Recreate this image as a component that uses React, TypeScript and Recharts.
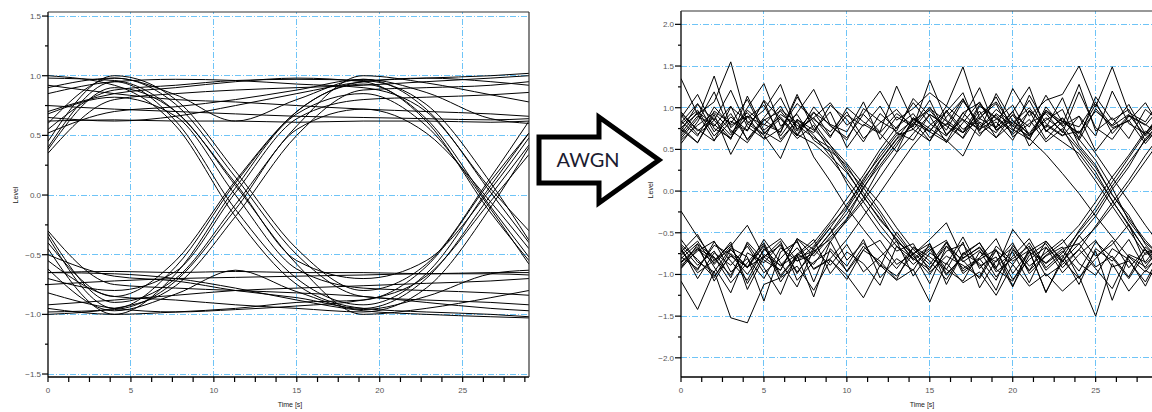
import React from 'react';
import { LineChart, Line, XAxis, YAxis, ReferenceLine } from 'recharts';

// clean eye diagram (left) - samples per trace at these times
const cleanTime = [0, 4, 7.7, 11.3, 15, 19, 22.8, 26.7, 29];
const cleanTraces = [
    [0.40, 0.95, 0.62, -0.12, -0.70, -0.92, -0.66, 0.08, 0.52],
    [-0.35, -0.95, -0.60, 0.10, 0.70, 0.93, 0.64, -0.10, -0.52],
    [0.62, 0.63, 0.62, 0.62, 0.61, 0.62, 0.62, 0.61, 0.62],
    [-0.65, -0.64, -0.65, -0.64, -0.65, -0.65, -0.66, -0.65, -0.65],
    [0.90, 0.98, 0.76, 0.15, -0.50, -0.85, -0.88, -0.90, -0.92],
    [-0.40, -0.85, -0.55, 0.12, 0.70, 0.95, 0.98, 0.95, 0.92],
    [0.70, 0.85, 0.90, 0.95, 0.98, 0.95, 0.62, -0.15, -0.55],
    [-0.95, -1.00, -0.98, -0.95, -0.90, -0.88, -0.60, 0.12, 0.52],
    [0.35, 0.80, 0.85, 0.88, 0.90, 0.92, 0.95, 0.98, 1.00],
    [-0.30, -0.75, -0.78, -0.80, -0.82, -0.85, -0.90, -0.95, -0.97],
    [0.75, 0.72, 0.70, 0.68, 0.66, 0.65, 0.64, 0.63, 0.64],
    [-0.75, -0.72, -0.70, -0.69, -0.68, -0.67, -0.66, -0.66, -0.67],
    [1.00, 0.92, 0.58, -0.18, -0.75, -0.95, -0.98, -1.00, -1.02],
    [-1.00, -0.95, -0.76, -0.18, 0.50, 0.88, 0.90, 0.92, 0.95],
    [0.55, 0.88, 0.92, 0.96, 0.97, 0.96, 0.76, 0.10, -0.38],
    [-0.55, -0.85, -0.88, -0.92, -0.95, -0.98, -0.78, -0.10, 0.40],
    [0.92, 0.85, 0.80, 0.78, 0.75, 0.72, 0.70, 0.68, 0.66],
    [-0.92, -0.88, -0.84, -0.80, -0.78, -0.76, -0.74, -0.72, -0.70],
    [0.45, 1.00, 0.80, 0.20, -0.45, -0.80, -0.58, 0.15, 0.62],
    [-0.45, -1.00, -0.66, 0.06, 0.68, 0.85, 0.58, -0.12, -0.58],
    [0.65, 0.62, 0.66, 0.75, 0.85, 0.95, 0.98, 1.00, 1.02],
    [-0.65, -0.66, -0.70, -0.78, -0.88, -0.97, -1.00, -1.02, -1.03],
    [0.85, 0.95, 0.97, 0.96, 0.93, 0.90, 0.70, 0.05, -0.30],
    [-0.82, -0.95, -0.98, -0.96, -0.93, -0.88, -0.68, -0.05, 0.34],
    [0.60, 0.98, 0.84, 0.62, 0.80, 0.97, 0.86, 0.64, 0.60],
    [-0.62, -0.97, -0.83, -0.63, -0.81, -0.96, -0.85, -0.66, -0.63],
    [0.38, 0.90, 0.70, 0.08, -0.58, -1.00, -0.95, -0.86, -0.80],
    [-0.32, -0.90, -0.70, -0.08, 0.58, 1.00, 0.94, 0.84, 0.78],
    [0.68, 0.82, 0.66, 0.00, -0.62, -0.78, -0.80, -0.82, -0.84],
    [-0.70, -0.80, -0.64, 0.02, 0.64, 0.80, 0.82, 0.84, 0.86],
    [0.98, 0.96, 0.70, 0.10, -0.55, -0.70, -0.55, 0.05, 0.48],
    [-0.98, -0.96, -0.72, -0.12, 0.55, 0.72, 0.52, -0.06, -0.45],
    [0.52, 0.70, 0.74, 0.80, 0.88, 0.97, 0.72, 0.02, -0.40],
    [-0.50, -0.68, -0.72, -0.80, -0.86, -0.95, -0.70, 0.00, 0.42],
];

// noisy eye diagram (right) - one sample per second
const noisyTime = [0, 1, 2, 3, 4, 5, 6, 7, 8, 9, 10, 11, 12, 13, 14, 15, 16, 17, 18, 19, 20, 21, 22, 23, 24, 25, 26, 27, 28, 29];
const noisyTraces = [
    [0.82, 1.05, 0.71, 0.93, 0.62, 0.88, 1.12, 0.74, 0.95, 0.66, 0.91, 0.78, 1.02, 0.69, 0.85, 0.97, 0.73, 1.08, 0.81, 0.64, 0.92, 0.77, 1.15, 0.83, 0.70, 0.96, 0.79, 1.04, 0.68, 0.90],
    [0.74, 0.58, 0.96, 0.81, 1.10, 0.69, 0.87, 0.63, 0.79, 0.48, 0.31, -0.02, -0.28, -0.61, -0.74, -0.92, -0.66, -0.83, -1.05, -0.71, -0.88, -0.62, -0.95, -0.77, -1.12, -0.69, -0.84, -0.58, -0.93, -0.76],
    [-0.66, -0.89, -0.72, -1.04, -0.61, -0.83, -0.95, -0.57, -0.78, -0.55, -0.33, 0.05, 0.31, 0.58, 0.82, 0.71, 1.02, 0.85, 0.66, 0.93, 0.78, 1.09, 0.72, 0.87, 0.61, 0.99, 0.76, 0.84, 1.06, 0.73],
    [-0.81, -0.63, -1.08, -0.75, -0.92, -0.58, -0.86, -1.15, -0.70, -0.89, -0.64, -0.97, -0.79, -0.60, -1.02, -0.74, -0.88, -0.55, -0.93, -0.71, -1.06, -0.82, -0.67, -0.98, -0.76, -0.59, -0.91, -0.84, -1.09, -0.72],
    [0.91, 0.68, 0.85, 1.21, 0.77, 0.63, 0.98, 0.82, 0.70, 1.03, 0.86, 0.59, 0.93, 0.75, 1.06, 0.81, 0.66, 0.94, 0.72, 1.17, 0.84, 0.69, 0.97, 0.78, 0.52, 0.28, -0.04, -0.33, -0.59, -0.81],
    [-0.72, -0.95, -0.61, -0.84, -1.07, -0.69, -0.90, -0.76, -0.58, -0.99, -0.73, -0.87, -1.13, -0.66, -0.81, -0.94, -0.62, -0.85, -0.71, -1.03, -0.78, -0.57, -0.92, -0.74, -0.49, -0.25, 0.06, 0.34, 0.61, 0.77],
    [0.63, 0.87, 1.38, 0.76, 0.94, 0.71, 0.59, 0.86, 0.67, 0.42, 0.22, -0.06, -0.35, -0.57, -0.83, -0.69, -1.01, -0.77, -0.62, -0.91, -0.73, -1.10, -0.68, -0.85, -0.54, -0.30, 0.02, 0.29, 0.63, 0.84],
    [-0.93, -0.70, -0.86, -0.61, -1.18, -0.79, -0.65, -0.97, -0.74, -0.51, -0.27, 0.03, 0.36, 0.62, 0.79, 1.01, 0.68, 0.88, 1.24, 0.73, 0.91, 0.66, 0.85, 0.98, 0.55, 0.31, -0.05, -0.29, -0.64, -0.87],
    [0.69, 0.95, 0.80, 0.62, 1.14, 0.73, 0.89, 0.67, 1.01, 0.78, 0.64, 0.92, 0.71, 1.26, 0.83, 0.60, 0.97, 0.74, 0.88, 1.05, 0.65, 0.81, 0.93, 0.70, 1.19, 0.76, 0.62, 0.90, 0.79, 1.03],
    [-0.58, -0.85, -0.97, -0.68, -0.79, -1.32, -0.73, -0.61, -0.94, -0.82, -1.06, -0.70, -0.59, -0.88, -0.75, -1.11, -0.66, -0.93, -0.80, -0.57, -0.99, -0.72, -1.21, -0.84, -0.63, -0.91, -0.78, -1.03, -0.67, -0.86],
    [0.88, 1.16, 0.75, 0.64, 0.90, 0.79, 1.02, 0.68, 0.57, 0.39, 0.14, -0.13, -0.41, -0.66, -0.88, -0.71, -0.59, -0.96, -0.81, -1.07, -0.65, -0.90, -0.74, -0.58, -0.87, -1.01, -0.69, -0.82, -1.14, -0.73],
    [-0.77, -0.60, -0.91, -1.22, -0.74, -0.86, -0.63, -0.99, -0.68, -0.44, -0.16, 0.12, 0.45, 0.70, 0.61, 0.92, 0.79, 1.11, 0.74, 0.86, 1.03, 0.67, 0.95, 0.80, 1.28, 0.72, 0.88, 0.63, 0.98, 0.81],
    [0.76, 0.93, 0.61, 0.84, 0.72, 1.09, 0.87, 0.66, 0.94, 0.80, 0.71, 1.07, 0.62, 0.89, 0.77, 1.33, 0.85, 0.70, 0.96, 0.64, 0.82, 1.00, 0.73, 0.59, 0.45, 0.18, -0.11, -0.42, -0.70, -0.94],
    [-0.86, -0.69, -0.80, -1.01, -0.63, -0.92, -1.24, -0.75, -0.88, -0.60, -0.97, -0.71, -0.84, -1.06, -0.67, -0.79, -0.94, -0.61, -1.16, -0.83, -0.68, -0.95, -0.77, -0.62, -0.41, -0.13, 0.17, 0.43, 0.72, 0.58],
    [0.95, 0.72, 0.88, 0.67, 1.00, 1.29, 0.78, 0.92, 0.61, 0.47, 0.09, -0.21, -0.49, -0.72, -0.63, -0.97, -0.78, -0.89, -1.03, -0.66, -0.84, -0.71, -1.22, -0.80, -0.47, -0.20, 0.11, 0.40, 0.69, 0.92],
    [-0.68, -1.05, -0.74, -0.89, -0.66, -0.98, -0.81, -0.59, -1.09, -0.61, -0.34, -0.08, 0.28, 0.54, 0.86, 0.72, 0.95, 1.18, 0.69, 0.83, 0.61, 0.97, 0.76, 1.12, 0.62, 0.37, 0.04, -0.36, -0.62, -0.79],
    [1.35, 0.92, 1.07, 1.55, 0.81, 0.97, 1.28, 0.74, 0.88, 1.06, 0.79, 0.93, 1.20, 0.85, 0.99, 1.18, 1.02, 1.49, 0.87, 0.76, 1.23, 0.90, 1.09, 1.16, 1.50, 1.01, 1.49, 0.94, 0.83, 1.12],
    [-1.08, -1.42, -0.96, -1.52, -1.58, -1.12, -1.04, -0.90, -1.19, -0.83, -1.01, -1.28, -0.89, -1.07, -0.94, -1.33, -0.86, -1.10, -0.97, -1.25, -0.88, -1.14, -0.99, -1.20, -1.02, -1.50, -0.87, -1.20, -0.95, -1.08],
    [0.61, 0.79, 0.94, 0.73, 0.58, 0.86, 0.70, 1.13, 0.82, 0.55, 0.27, 0.04, -0.24, -0.53, -0.78, -1.00, -0.72, -0.64, -0.90, -0.79, -1.15, -0.68, -0.87, -0.72, -0.96, -0.61, -0.80, -1.05, -0.74, -0.66],
    [-0.24, -0.55, -0.83, -0.70, -0.92, -0.66, -1.03, -0.78, -0.62, -0.37, -0.09, 0.19, 0.50, 0.77, 0.93, 0.64, 0.81, 0.70, 1.04, 0.88, 0.73, 0.96, 0.62, 0.84, 0.77, 1.07, 0.69, 0.91, 0.80, 0.65],
    [0.84, 0.66, 1.01, 0.79, 0.90, 0.62, 0.75, 1.05, 0.86, 0.71, 0.95, 0.63, 0.82, 0.98, 0.74, 0.60, 0.89, 1.10, 0.77, 0.91, 0.68, 0.86, 0.59, 0.75, 0.40, 0.12, -0.18, -0.47, -0.76, -0.69],
    [-0.79, -0.93, -0.65, -0.76, -1.00, -0.71, -0.57, -0.84, -0.66, -0.40, -0.20, 0.15, 0.41, 0.67, 0.74, 0.99, 0.84, 0.63, 0.92, 1.07, 0.78, 0.66, 0.88, 0.72, 0.49, 0.23, -0.12, -0.40, -0.71, -0.98],
    [0.57, 0.83, 1.19, 0.70, 0.88, 1.03, 0.66, 0.94, 1.22, 0.79, 0.61, 0.99, 0.84, 0.72, 1.11, 0.90, 0.58, 0.82, 1.07, 0.76, 0.95, 1.25, 0.71, 0.88, 0.64, 1.13, 0.85, 0.98, 0.60, 0.87],
    [-0.92, -0.64, -0.79, -1.10, -0.86, -0.62, -1.01, -0.77, -1.27, -0.69, -0.90, -0.58, -1.04, -0.81, -0.95, -0.63, -1.12, -0.74, -0.87, -1.19, -0.70, -0.96, -0.60, -0.83, -1.05, -0.72, -1.31, -0.78, -0.91, -0.65],
    [0.80, 0.97, 0.66, 0.89, 0.73, 1.08, 0.62, 0.85, 0.41, 0.12, -0.20, -0.46, -0.71, -0.93, -0.68, -0.84, -1.06, -0.75, -0.62, -0.97, -0.81, -0.66, -1.02, -0.88, -0.70, -0.93, -1.17, -0.76, -0.85, -0.60],
    [-0.70, -0.98, -0.83, -0.64, -1.11, -0.76, -0.89, -0.68, -0.93, -0.81, -0.58, -0.30, -0.02, 0.27, 0.55, 0.79, 0.95, 0.70, 0.86, 1.13, 0.74, 0.62, 0.97, 0.83, 0.69, 1.04, 0.78, 0.92, 0.66, 0.88],
    [0.66, 0.90, 0.78, 1.02, 0.61, 0.85, 0.96, 0.72, 0.88, 0.64, 1.00, 0.83, 0.70, 0.93, 0.79, 1.09, 0.67, 0.86, 0.74, 0.98, 0.81, 0.63, 0.44, 0.21, -0.03, -0.30, -0.55, -0.79, -0.97, -0.71],
    [-0.64, -0.82, -1.04, -0.70, -0.91, -0.79, -0.60, -1.07, -0.85, -0.72, -0.96, -0.66, -0.88, -1.02, -0.75, -0.63, -0.99, -0.80, -0.68, -0.94, -1.08, -0.73, -0.86, -0.69, -0.63, -0.44, -0.19, 0.08, 0.36, 0.64],
    [0.72, 1.04, 0.85, 0.63, 0.97, 0.80, 0.71, 1.16, 0.74, 0.55, 0.33, 0.08, -0.15, -0.44, -0.70, -0.88, -0.61, -0.99, -0.82, -0.70, -1.14, -0.77, -0.63, -0.92, -0.70, -0.42, -0.14, 0.13, 0.43, 0.70],
    [-0.85, -0.67, -1.02, -0.78, -0.91, -0.64, -1.09, -0.80, -0.72, -0.58, -0.36, -0.12, 0.17, 0.46, 0.69, 0.92, 0.78, 0.64, 1.02, 0.87, 0.70, 1.15, 0.81, 0.67, 0.72, 0.45, 0.16, -0.12, -0.41, -0.68],
    [0.77, 0.58, 0.92, 0.44, 0.81, 0.67, 0.39, 0.86, 0.73, 0.95, 0.52, 0.80, 0.69, 0.47, 0.88, 0.75, 0.61, 0.42, 0.83, 0.70, 0.96, 0.54, 0.79, 0.66, 0.90, 0.48, 0.74, 0.85, 0.57, 0.81],
    [-0.73, -0.52, -0.88, -0.66, -0.41, -0.79, -0.95, -0.57, -0.70, -0.44, -0.83, -0.62, -0.91, -0.49, -0.76, -0.58, -0.38, -0.81, -0.67, -0.93, -0.46, -0.72, -0.60, -0.85, -0.53, -0.78, -0.64, -0.40, -0.87, -0.69],
    [0.93, 0.74, 0.60, 1.01, 0.84, 0.68, 0.92, 0.79, 0.64, 0.52, 0.24, -0.07, -0.33, -0.58, -0.81, -0.66, -0.94, -1.08, -0.73, -0.85, -0.62, -0.99, -0.78, -0.67, -1.04, -0.81, -0.59, -0.92, -0.70, -0.88],
    [-0.89, -0.72, -0.60, -0.97, -0.81, -1.05, -0.68, -0.84, -0.75, -0.50, -0.22, 0.09, 0.37, 0.63, 0.88, 0.71, 0.59, 0.94, 1.06, 0.73, 0.85, 0.62, 1.01, 0.78, 0.90, 0.66, 1.20, 0.81, 0.69, 0.96],
];

const timeTicks = [0, 1.25, 2.5, 3.75, 5, 6.25, 7.5, 8.75, 10, 11.25, 12.5, 13.75, 15, 16.25, 17.5, 18.75, 20, 21.25, 22.5, 23.75, 25, 26.25, 27.5, 28.75];
const timeGrid = [5, 10, 15, 20, 25];
const leftLevelTicks = [-1.5, -1.25, -1, -0.75, -0.5, -0.25, 0, 0.25, 0.5, 0.75, 1, 1.25, 1.5];
const leftLevelGrid = [-1.5, -1, -0.5, 0, 0.5, 1, 1.5];
const rightLevelTicks = [-2, -1.75, -1.5, -1.25, -1, -0.75, -0.5, -0.25, 0, 0.25, 0.5, 0.75, 1, 1.25, 1.5, 1.75, 2];
const rightLevelGrid = [-2, -1.5, -1, -0.5, 0, 0.5, 1, 1.5, 2];

const GRID = '#6ec4f7';
const TICK_FONT = '"Liberation Sans", Arial, sans-serif';

const buildRows = (time: number[], traces: number[][]) =>
    time.map((t, i) => {
        const row: Record<string, number> = { t };
        traces.forEach((tr, k) => { row[`s${k}`] = tr[i]; });
        return row;
    });

const fmtLevel = (v: number) => (v < 0 ? '\u2212' : '') + Math.abs(v).toFixed(1);

const TimeTick = (props: any) => {
    const { x, y, payload } = props;
    const v = payload.value as number;
    const major = v % 5 === 0;
    return (
        <g>
            <line x1={x} y1={y} x2={x} y2={y + 5} stroke="#000" strokeWidth={1.2} />
            {major && (
                <text x={x} y={y + 16} textAnchor="middle" fontSize={8} fill="#555" fontFamily={TICK_FONT}>
                    {v}
                </text>
            )}
        </g>
    );
};

const LevelTick = (props: any) => {
    const { x, y, payload } = props;
    const v = payload.value as number;
    const major = Math.abs((v * 2) % 1) < 1e-6;
    return (
        <g>
            <line x1={x - (major ? 6 : 3)} y1={y} x2={x} y2={y} stroke="#000" strokeWidth={1.2} />
            {major && (
                <text x={x - 7} y={y + 3} textAnchor="end" fontSize={8} fill="#555" fontFamily={TICK_FONT}>
                    {fmtLevel(v)}
                </text>
            )}
        </g>
    );
};

const EyeChart: React.FC<{
    width: number; yWidth: number; right: number; top: number;
    rows: Record<string, number>[]; count: number; curve: 'monotone' | 'linear';
    yDomain: [number, number]; yTicks: number[]; yGrid: number[];
}> = ({ width, yWidth, right, top, rows, count, curve, yDomain, yTicks, yGrid }) => (
    <LineChart width={width} height={412} data={rows} margin={{ top, right, bottom: 15, left: 0 }}>
        {timeGrid.map((v) => (
            <ReferenceLine key={`vx${v}`} x={v} stroke={GRID} strokeWidth={1} strokeDasharray="6 2 1 2" shapeRendering="crispEdges" />
        ))}
        {yGrid.map((v) => (
            <ReferenceLine key={`hy${v}`} y={v} stroke={GRID} strokeWidth={1} strokeDasharray="6 2 1 2" shapeRendering="crispEdges" />
        ))}
        <XAxis
            dataKey="t" type="number" domain={[0, 29]} allowDataOverflow ticks={timeTicks} interval={0}
            height={20} tickSize={0} tickMargin={0} tickLine={false} tick={(p: any) => <TimeTick {...p} />}
            axisLine={{ stroke: '#000', strokeWidth: 1.3 }}
        />
        <YAxis
            type="number" domain={yDomain} allowDataOverflow ticks={yTicks} interval={0}
            width={yWidth} tickSize={0} tickMargin={0} tickLine={false} tick={(p: any) => <LevelTick {...p} />}
            axisLine={{ stroke: '#000', strokeWidth: 1.3 }}
        />
        {Array.from({ length: count }, (_, k) => (
            <Line
                key={k} dataKey={`s${k}`} type={curve} stroke="#000" strokeWidth={1}
                dot={false} activeDot={false} isAnimationActive={false}
            />
        ))}
    </LineChart>
);

const App: React.FC = () => {
    const cleanRows = buildRows(cleanTime, cleanTraces);
    const noisyRows = buildRows(noisyTime, noisyTraces);

    return (
        <div style={{ position: 'absolute', left: 0, top: 0, width: 1152, height: 412, overflow: 'hidden', background: '#fff' }}>
            <div style={{ position: 'absolute', left: 0, top: 0 }}>
                <EyeChart width={540} yWidth={48} right={11} top={12} rows={cleanRows} count={cleanTraces.length}
                    curve="monotone" yDomain={[-1.525, 1.534]} yTicks={leftLevelTicks} yGrid={leftLevelGrid} />
            </div>
            <div style={{ position: 'absolute', left: 636, top: 0 }}>
                <EyeChart width={531} yWidth={45} right={5} top={11} rows={noisyRows} count={noisyTraces.length}
                    curve="linear" yDomain={[-2.23, 2.16]} yTicks={rightLevelTicks} yGrid={rightLevelGrid} />
            </div>
            <svg width={1152} height={412} style={{ position: 'absolute', left: 0, top: 0, pointerEvents: 'none' }}>
                {/* plot frames */}
                <line x1={48} y1={12} x2={529} y2={12} stroke="#333" strokeWidth={1.2} />
                <line x1={529} y1={12} x2={529} y2={377} stroke="#333" strokeWidth={1.2} />
                <line x1={681} y1={11} x2={1152} y2={11} stroke="#333" strokeWidth={1.2} />
                {/* axis titles */}
                <text x={18} y={195} textAnchor="middle" transform="rotate(-90 18 195)" fontSize={7} fill="#222" fontFamily={TICK_FONT}>Level</text>
                <text x={290} y={407} textAnchor="middle" fontSize={7} fill="#222" fontFamily={TICK_FONT}>Time [s]</text>
                <text x={653} y={190} textAnchor="middle" transform="rotate(-90 653 190)" fontSize={7} fill="#222" fontFamily={TICK_FONT}>Level</text>
                <text x={922} y={407} textAnchor="middle" fontSize={7} fill="#222" fontFamily={TICK_FONT}>Time [s]</text>
                {/* AWGN arrow */}
                <polygon
                    points="539,137 599,137 599,117 659,160 599,203 599,183 539,183"
                    fill="#fff" stroke="#000" strokeWidth={5} strokeLinejoin="miter"
                />
                <text x={588} y={167} textAnchor="middle" fontSize={20} fill="#1b1b2f" fontFamily="Lato, 'Open Sans', sans-serif">AWGN</text>
            </svg>
        </div>
    );
};

export default App;
